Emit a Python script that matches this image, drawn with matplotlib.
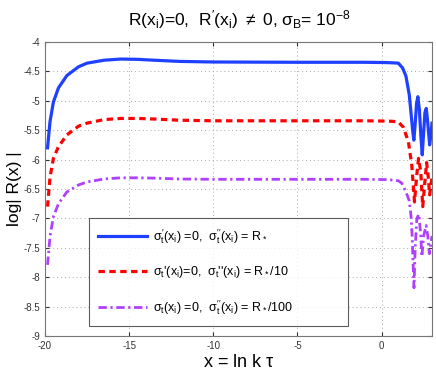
import matplotlib
matplotlib.use("Agg")
import matplotlib.pyplot as plt
from matplotlib.ticker import MultipleLocator

plt.rcParams['font.family'] = ['Liberation Sans', 'DejaVu Sans']
plt.rcParams['mathtext.fontset'] = 'custom'
plt.rcParams['mathtext.rm'] = 'Liberation Sans'
plt.rcParams['mathtext.it'] = 'Liberation Sans'
plt.rcParams['mathtext.sf'] = 'Liberation Sans'

# data
x_blue = [-19.85, -19.7, -19.5, -19.2, -18.7, -18.0, -17.5, -16.5, -15.5, -14.5, -13.5, -12.0, -10.0,
          -5.0, -1.0, 0.3, 0.7, 1.0, 1.25, 1.45, 1.65, 1.85, 1.92, 2.0, 2.08, 2.16, 2.25, 2.34, 2.42,
          2.5, 2.58, 2.66, 2.74, 2.86, 2.93, 3.0]
y_blue = [-5.80, -5.35, -5.02, -4.78, -4.57, -4.42, -4.36, -4.31, -4.29, -4.295, -4.31, -4.33, -4.34,
          -4.345, -4.345, -4.35, -4.355, -4.36, -4.44, -4.58, -4.90, -5.50, -5.67, -5.40, -5.05, -4.93,
          -5.15, -5.60, -5.92, -5.55, -5.20, -5.13, -5.35, -5.75, -5.60, -5.38]

x_red = [-19.85, -19.7, -19.5, -19.2, -18.7, -18.0, -17.5, -16.5, -15.5, -14.5, -13.5, -12.0, -10.0,
         -5.0, -1.0, 0.3, 0.7, 1.0, 1.3, 1.6, 1.8, 1.96, 2.08, 2.2, 2.33, 2.45, 2.57, 2.68, 2.78, 2.86,
         2.95, 3.0]
y_red = [-6.80, -6.30, -5.98, -5.78, -5.58, -5.43, -5.38, -5.32, -5.30, -5.30, -5.31, -5.33, -5.34,
         -5.34, -5.34, -5.345, -5.35, -5.36, -5.45, -5.70, -6.10, -6.72, -6.30, -5.98, -6.20, -6.80,
         -6.40, -6.05, -6.30, -6.60, -6.40, -6.30]

x_purple = [-19.85, -19.7, -19.5, -19.2, -18.7, -18.0, -17.5, -16.5, -15.5, -14.5, -13.5, -12.0, -10.0,
            -5.0, -1.0, 0.3, 0.7, 1.0, 1.2, 1.45, 1.65, 1.75, 1.82, 1.88, 1.93, 2.0, 2.1, 2.22, 2.32,
            2.4, 2.5, 2.65, 2.75, 2.84, 2.92, 3.0]
y_purple = [-7.79, -7.30, -6.97, -6.75, -6.55, -6.43, -6.38, -6.33, -6.31, -6.31, -6.315, -6.33, -6.335,
            -6.335, -6.335, -6.34, -6.35, -6.36, -6.40, -6.55, -6.70, -6.95, -7.30, -7.80, -8.18, -7.50,
            -7.00, -6.93, -7.25, -7.65, -7.30, -7.12, -7.30, -7.60, -7.45, -7.30]

labels = [
    r"$\sigma_t^{\prime}(x_i)$ =0,  $\sigma_t^{\prime\prime}(x_i)$ = R$_*$",
    r"$\sigma_t$'$(x_i)$=0,  $\sigma_t$''$(x_i)$ = R$_*$/10",
    r"$\sigma_t(x_i)$ =0,  $\sigma_t^{\prime\prime}(x_i)$ = R$_*$/100",
]

fig = plt.figure(figsize=(4.36, 3.71), dpi=100)
ax = fig.add_axes([45/436, 1 - 336/371, (432 - 45)/436, (336 - 42)/371])

ax.plot(x_blue, y_blue, color='#2040ff', lw=2.3, solid_joinstyle='round', label=labels[0])
ax.plot(x_red, y_red, color='#ff0000', lw=2.3, ls=(0, (2.0, 1.4)), label=labels[1])
ax.plot(x_purple, y_purple, color='#b040ff', lw=2.0, ls=(0, (3.0, 1.3, 0.8, 1.3)), label=labels[2])

ax.set_xlim(-20, 3)
ax.set_ylim(-9, -4)
ax.xaxis.set_major_locator(MultipleLocator(5))
ax.yaxis.set_major_locator(MultipleLocator(0.5))
ax.set_yticklabels([f"{v:g}" for v in ax.get_yticks()])
ax.set_xticklabels([f"{v:g}" for v in ax.get_xticks()])
ax.tick_params(direction='in', labelsize=7, length=3, colors='#333333', top=True, right=True)
ax.tick_params(axis='x', labeltop=False)
ax.tick_params(axis='y', labelright=False)
ax.grid(True, ls=(0, (1, 3)), color='#aaaaaa', lw=0.7)
for s in ax.spines.values():
    s.set_color('#777777')
    s.set_linewidth(0.8)

ax.set_xlabel(r"x = ln k $\tau$", fontsize=13, labelpad=2)
ax.set_ylabel(r"log| R(x) |", fontsize=12.5)
ax.yaxis.set_label_coords((22 - 45)/387, 0.5)
fig.text(239/436, 1 - 20/371,
         r"R(x$_i$)=0,  R$^{\prime}$(x$_i$) $\neq$ 0, $\sigma_B$= 10$^{-8}$",
         ha='center', va='center', fontsize=12.5)

x0 = (89 - 45)/387
y0 = (336 - 327)/294
w = (348 - 89)/387
h = (327 - 218)/294
leg = ax.legend(loc='upper left', bbox_to_anchor=(x0, y0, w, h), mode='expand',
                fontsize=9, frameon=True, fancybox=False, edgecolor='#333333',
                handlelength=3.9, handletextpad=0.5, labelspacing=1.45,
                borderpad=0.75, borderaxespad=0)
leg.get_frame().set_linewidth(0.8)

fig.savefig("out.png", dpi=100)
